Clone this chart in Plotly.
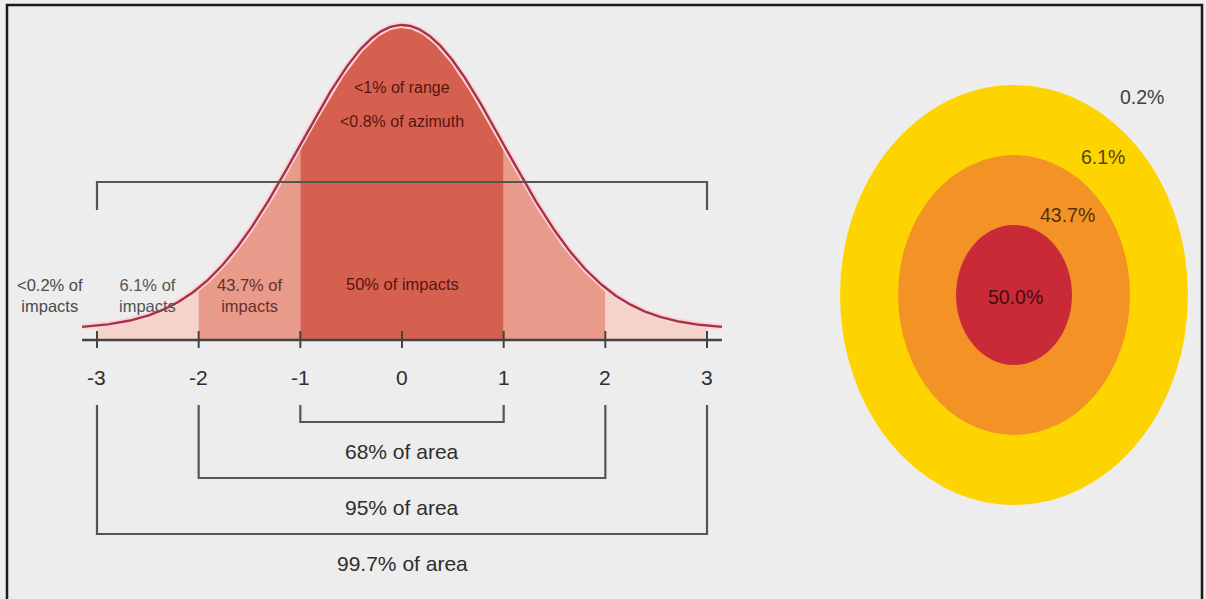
import numpy as np
import plotly.graph_objects as go

# ---------------- data ----------------
sigma_ticks = [-3, -2, -1, 0, 1, 2, 3]
tick_labels = ["-3", "-2", "-1", "0", "1", "2", "3"]
# shaded bands under the curve (sigma bounds) and their fill colours
band_lo = [-3, -2, -1, 1, 2]
band_hi = [-2, -1, 1, 2, 3]
band_colors = ["#f5d2ca", "#e89a8b", "#d6604f", "#e89a8b", "#f5d2ca"]
# impact labels per band
impact_x = [-3.46, -2.5, -1.5, 0.0]
impact_text = ["&lt;0.2% of<br>impacts", "6.1% of<br>impacts", "43.7% of<br>impacts", "50% of impacts"]
impact_colors = ["#4a4a4a", "#555555", "#6a2f28", "#561510"]
# area brackets
area_sigma = [1, 2, 3]
area_text = ["68% of area", "95% of area", "99.7% of area"]
# target rings (sigma radii) and their percentages
ring_sigma = [3, 2, 1]
ring_colors = ["#fdd400", "#f39325", "#c92a38"]
ring_text = ["0.2%", "6.1%", "43.7%", "50.0%"]
ring_text_colors = ["#404040", "#54440f", "#54300e", "#440e0e"]

# ---------------- geometry helpers (layout only) ----------------
W, H = 1206, 599
X0PX, XUNIT = 402.0, 101.67          # sigma 0 position and px per sigma
BASEPX = 340.0                        # baseline pixel row
YUNIT = 762.0                         # px per density unit
TAIL = 11.0 / YUNIT                   # curve lift above the axis
XMAX = 3.147

def ypx(p):
    return (BASEPX - p) / YUNIT

def pdf(x):
    return np.exp(-0.5 * np.asarray(x) ** 2) / np.sqrt(2 * np.pi)

def curve(x):
    return TAIL + pdf(x)

FONT = "Liberation Sans, Arial, Helvetica, sans-serif"

fig = go.Figure()

# shaded bands
for lo, hi, col in zip(band_lo, band_hi, band_colors):
    xs = np.linspace(lo, hi, 80)
    px_ = np.concatenate([xs, [hi, lo]])
    py_ = np.concatenate([curve(xs), [0, 0]])
    fig.add_trace(go.Scatter(x=px_, y=py_, mode="lines", fill="toself",
                             fillcolor=col, line=dict(width=0, color=col),
                             hoverinfo="skip", showlegend=False))

# curve (halo + line)
xc = np.linspace(-XMAX, XMAX, 400)
fig.add_trace(go.Scatter(x=xc, y=curve(xc), mode="lines",
                         line=dict(color="#f9d6d6", width=6),
                         hoverinfo="skip", showlegend=False))
fig.add_trace(go.Scatter(x=xc, y=curve(xc), mode="lines",
                         line=dict(color="#a8304a", width=2.4),
                         hoverinfo="skip", showlegend=False))

shapes = []
LC = "#555555"
# axis line
shapes.append(dict(type="line", xref="x", yref="y", x0=-XMAX, x1=XMAX, y0=0, y1=0,
                   line=dict(color="#444444", width=2.4)))
# ticks
for t in sigma_ticks:
    shapes.append(dict(type="line", xref="x", yref="y", x0=t, x1=t,
                       y0=ypx(331), y1=ypx(348), line=dict(color="#444444", width=2)))
# top bracket
shapes.append(dict(type="path", xref="x", yref="y",
                   path=f"M {-3} {ypx(210)} L {-3} {ypx(182)} L {3} {ypx(182)} L {3} {ypx(210)}",
                   line=dict(color=LC, width=2.2)))
# lower brackets
bracket_y = [422, 478, 534]
text_y = [451, 507, 563]
for s, by in zip(area_sigma, bracket_y):
    shapes.append(dict(type="path", xref="x", yref="y",
                       path=f"M {-s} {ypx(405)} L {-s} {ypx(by)} L {s} {ypx(by)} L {s} {ypx(405)}",
                       line=dict(color=LC, width=2.2)))

# target rings
for s, col in zip(ring_sigma, ring_colors):
    shapes.append(dict(type="circle", xref="x2", yref="y2", x0=-s, x1=s, y0=-s, y1=s,
                       fillcolor=col, line=dict(width=0), layer="below"))

# frame
shapes.append(dict(type="rect", xref="paper", yref="paper",
                   x0=7 / W, x1=1202 / W, y0=-0.02, y1=1 - 5 / H,
                   line=dict(color="#1a1a1a", width=2.5)))

annotations = []
# tick labels
for t, lab in zip(sigma_ticks, tick_labels):
    annotations.append(dict(x=t, y=ypx(377), xref="x", yref="y", text=lab, showarrow=False,
                            font=dict(family=FONT, size=21, color="#2e2e2e")))
# area labels
for s, ty, txt in zip(area_sigma, text_y, area_text):
    annotations.append(dict(x=0, y=ypx(ty), xref="x", yref="y", text=txt, showarrow=False,
                            font=dict(family=FONT, size=21, color="#2e2e2e")))
# impact labels
for i, (xx, txt, col) in enumerate(zip(impact_x, impact_text, impact_colors)):
    yy = ypx(284) if i == 3 else ypx(295)
    annotations.append(dict(x=xx, y=yy, xref="x", yref="y", text=txt, showarrow=False,
                            font=dict(family=FONT, size=16.5, color=col)))
# precision labels in the peak
annotations.append(dict(x=0, y=ypx(87), xref="x", yref="y", text="&lt;1% of range",
                        showarrow=False, font=dict(family=FONT, size=16, color="#561510")))
annotations.append(dict(x=0, y=ypx(121), xref="x", yref="y", text="&lt;0.8% of azimuth",
                        showarrow=False, font=dict(family=FONT, size=16, color="#561510")))

# ring labels (axis-2 units: 58 px per x unit, 70 px per y unit, centre at 1014,295)
ring_lab_px = [(1142, 97), (1103, 157), (1067, 215), (1015, 297)]
for (lx, ly), txt, col in zip(ring_lab_px, ring_text, ring_text_colors):
    annotations.append(dict(x=(lx - 1014) / 58, y=(295 - ly) / 70, xref="x2", yref="y2",
                            text=txt, showarrow=False,
                            font=dict(family=FONT, size=19.5, color=col)))

fig.update_layout(
    width=W, height=H,
    margin=dict(l=0, r=0, t=0, b=0),
    paper_bgcolor="#ededed", plot_bgcolor="#ededed",
    showlegend=False,
    xaxis=dict(range=[-X0PX / XUNIT, (W - X0PX) / XUNIT], visible=False, fixedrange=True),
    yaxis=dict(range=[ypx(H), ypx(0)], visible=False, fixedrange=True),
    xaxis2=dict(range=[-1014 / 58, (W - 1014) / 58], overlaying="x", visible=False),
    yaxis2=dict(range=[-(H - 295) / 70, 295 / 70], overlaying="y", visible=False),
    shapes=shapes, annotations=annotations,
)
# dummy trace to activate the second axis pair
fig.add_trace(go.Scatter(x=[0], y=[0], xaxis="x2", yaxis="y2", mode="markers",
                         marker=dict(size=0.1, opacity=0), hoverinfo="skip", showlegend=False))

fig.write_html("out.html")
